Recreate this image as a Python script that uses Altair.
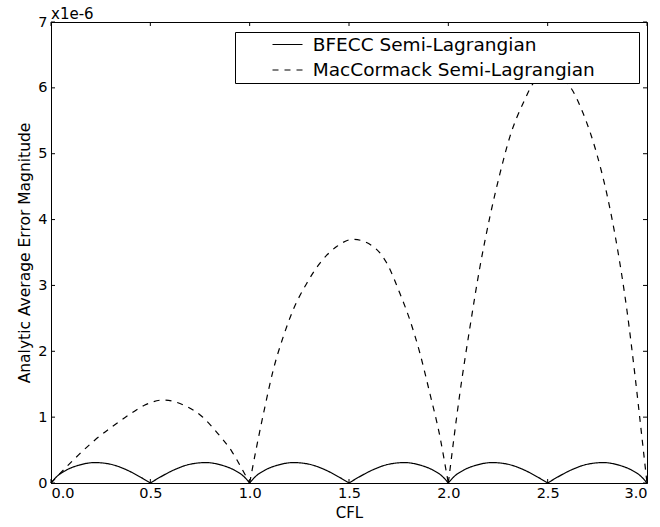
import altair as alt
import pandas as pd

# ---------------- data (errors in units of 1e-6) ----------------
series_names = ["BFECC Semi-Lagrangian", "MacCormack Semi-Lagrangian"]

bfecc_cfl = [0.00, 0.03, 0.08, 0.14, 0.22, 0.30, 0.38, 0.45, 0.50,
             0.55, 0.62, 0.70, 0.78, 0.86, 0.92, 0.97, 1.00,
             1.03, 1.08, 1.14, 1.22, 1.30, 1.38, 1.45, 1.50,
             1.55, 1.62, 1.70, 1.78, 1.86, 1.92, 1.97, 2.00,
             2.03, 2.08, 2.14, 2.22, 2.30, 2.38, 2.45, 2.50,
             2.55, 2.62, 2.70, 2.78, 2.86, 2.92, 2.97, 3.00]
bfecc_err = [0.00, 0.10, 0.20, 0.27, 0.31, 0.285, 0.20, 0.09, 0.00,
             0.09, 0.20, 0.285, 0.31, 0.27, 0.20, 0.10, 0.00,
             0.10, 0.20, 0.27, 0.31, 0.285, 0.20, 0.09, 0.00,
             0.09, 0.20, 0.285, 0.31, 0.27, 0.20, 0.10, 0.00,
             0.10, 0.20, 0.27, 0.31, 0.285, 0.20, 0.09, 0.00,
             0.09, 0.20, 0.285, 0.31, 0.27, 0.20, 0.10, 0.00]

mac_cfl = [0.00, 0.07, 0.14, 0.22, 0.31, 0.39, 0.47, 0.565, 0.67, 0.76, 0.84, 0.91, 0.96, 1.00,
           1.035, 1.077, 1.119, 1.169, 1.219, 1.287, 1.354, 1.438, 1.52, 1.622, 1.69, 1.756,
           1.807, 1.857, 1.907, 1.958, 1.991, 2.00,
           2.058, 2.109, 2.159, 2.209, 2.26, 2.31, 2.377, 2.444, 2.528, 2.612, 2.679, 2.746,
           2.797, 2.85, 2.90, 2.94, 2.975, 3.00]
mac_err = [0.00, 0.22, 0.43, 0.65, 0.86, 1.03, 1.18, 1.26, 1.18, 1.01, 0.75, 0.48, 0.22, 0.00,
           0.55, 1.16, 1.72, 2.22, 2.63, 3.03, 3.34, 3.59, 3.70, 3.59, 3.34, 2.88,
           2.47, 1.97, 1.36, 0.70, 0.15, 0.00,
           1.36, 2.37, 3.28, 4.04, 4.70, 5.26, 5.77, 6.12, 6.19, 6.02, 5.61, 5.01,
           4.40, 3.58, 2.60, 1.62, 0.68, 0.00]

x_ticks = [0.0, 0.5, 1.0, 1.5, 2.0, 2.5, 3.0]
y_ticks = [0, 1, 2, 3, 4, 5, 6, 7]
offset_label = "x1e-6"


def to_rows(name, xs, ys):
    rows, seg = [], 0
    for i, (x, y) in enumerate(zip(xs, ys)):
        rows.append(dict(series=name, seg=f"{name}-{seg}", cfl=x, err=y))
        if y == 0 and 0 < i < len(xs) - 1:
            seg += 1
            rows.append(dict(series=name, seg=f"{name}-{seg}", cfl=x, err=y))
    return rows


df = pd.DataFrame(to_rows(series_names[0], bfecc_cfl, bfecc_err)
                  + to_rows(series_names[1], mac_cfl, mac_err))

FONT = "DejaVu Sans"
W, H = 596, 461
xscale = alt.Scale(domain=[0, 3], nice=False, zero=False)
yscale = alt.Scale(domain=[0, 7], nice=False, zero=False)

x_axis = alt.Axis(values=x_ticks, format=".1f", title="CFL",
                  titleX=W / 2, titleY=34, titleBaseline="alphabetic",
                  titleFontSize=15, labelPadding=3)
y_axis = alt.Axis(values=y_ticks, format="d", title="Analytic Average Error Magnitude",
                  titleX=-21.5, titleY=H / 2, titleBaseline="alphabetic",
                  titleAlign="center", titleFontSize=15.5, labelPadding=4)

lines = alt.Chart(df).mark_line(color="black", strokeWidth=1.2, interpolate="monotone").encode(
    x=alt.X("cfl:Q", scale=xscale, axis=x_axis),
    y=alt.Y("err:Q", scale=yscale, axis=y_axis),
    strokeDash=alt.StrokeDash(
        "series:N",
        scale=alt.Scale(domain=series_names, range=[[1, 0], [6, 6]]),
        legend=alt.Legend(
            title=None, orient="none", legendX=184, legendY=10,
            fillColor="white", strokeColor="black", padding=3.25,
            symbolType="M-3,0H3", symbolSize=100, symbolStrokeWidth=1.2,
            symbolStrokeColor="black", symbolFillColor="transparent",
            symbolOffset=40, labelOffset=16,
            labelFont=FONT, labelFontSize=18.5, labelColor="black", labelLimit=600,
            rowPadding=6.5,
            labelExpr="datum.label + '\u2800\u2800\u2800'",
        ),
    ),
    detail="seg:N",
)

xt = pd.DataFrame({"cfl": x_ticks})
yt = pd.DataFrame({"err": y_ticks})
tick_style = dict(color="black", strokeWidth=1)
ticks_bottom = alt.Chart(xt).mark_rule(**tick_style).encode(
    x=alt.X("cfl:Q", scale=xscale, axis=x_axis), y=alt.value(H), y2=alt.value(H - 4))
ticks_top = alt.Chart(xt).mark_rule(**tick_style).encode(
    x=alt.X("cfl:Q", scale=xscale, axis=x_axis), y=alt.value(0), y2=alt.value(4))
ticks_left = alt.Chart(yt).mark_rule(**tick_style).encode(
    y=alt.Y("err:Q", scale=yscale, axis=y_axis), x=alt.value(0), x2=alt.value(4))
ticks_right = alt.Chart(yt).mark_rule(**tick_style).encode(
    y=alt.Y("err:Q", scale=yscale, axis=y_axis), x=alt.value(W), x2=alt.value(W - 4))

offset_text = alt.Chart(pd.DataFrame({"t": [offset_label]})).mark_text(
    align="left", baseline="alphabetic", font=FONT, fontSize=15, color="black"
).encode(x=alt.value(0), y=alt.value(-3), text="t:N")

chart = alt.layer(
    lines, ticks_bottom, ticks_top, ticks_left, ticks_right, offset_text
).properties(
    width=W, height=H,
    autosize=alt.AutoSizeParams(type="none"),
    padding={"left": 51, "top": 22, "right": 13, "bottom": 44},
    background="white",
).configure_view(
    stroke="black", strokeWidth=1
).configure_axis(
    domainColor="black", domainWidth=1, ticks=False, grid=False,
    labelFont=FONT, labelFontSize=14.5, labelColor="black",
    titleFont=FONT, titleFontWeight="normal", titleColor="black",
)

chart.save("out.html", embed_options={"renderer": "svg", "actions": False})
